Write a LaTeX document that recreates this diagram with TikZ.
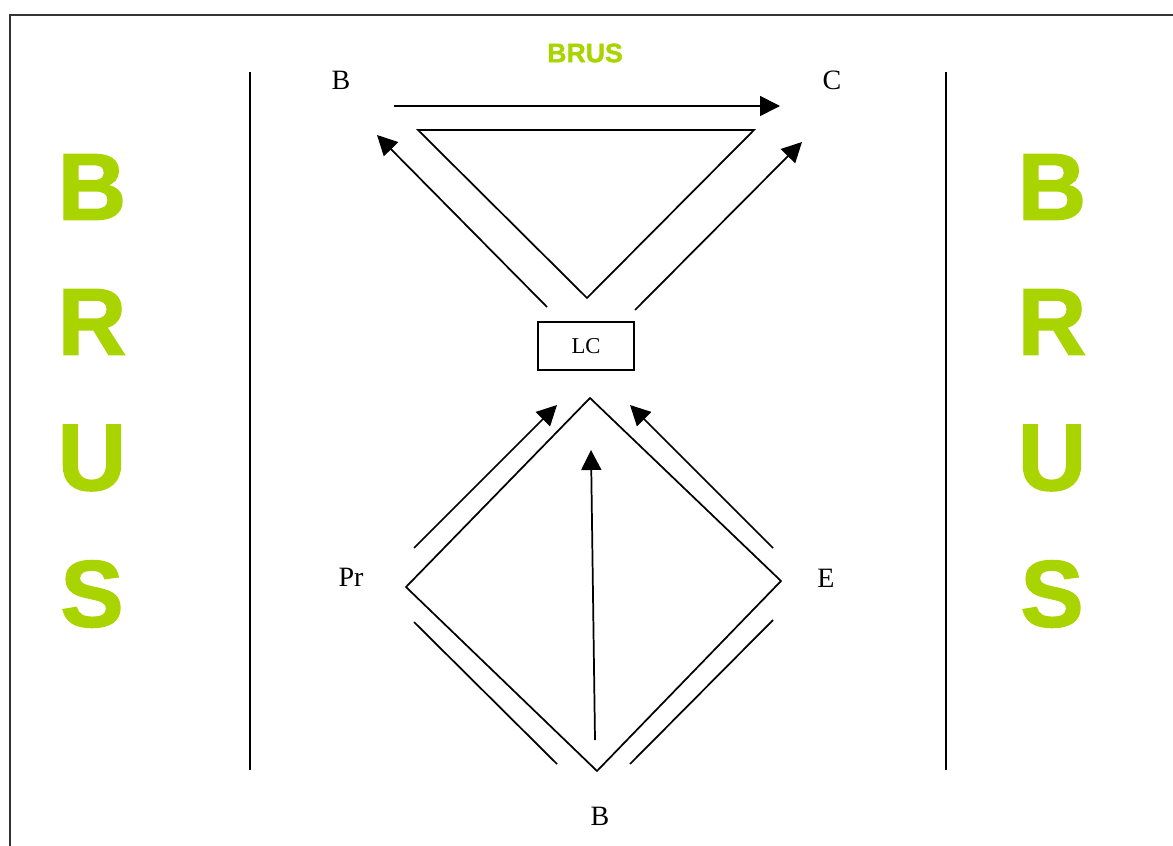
\documentclass[tikz,border=0pt]{standalone}
\usepackage{fontspec}
\setmainfont{Liberation Serif}
\newfontfamily\brusfont[FakeBold=1.6]{Liberation Sans}
\usetikzlibrary{positioning,arrows.meta}
\usepackage{xcolor}
\definecolor{brusgreen}{RGB}{170,212,0}

\begin{document}
\begin{tikzpicture}[
  x=0.75pt, y=-0.75pt,
  lbl/.style={font=\fontsize{21}{24}\selectfont, inner sep=0pt},
  big/.style={font=\brusfont\bfseries\fontsize{71}{71}\selectfont, text=brusgreen, inner sep=0pt},
  hdr/.style={font=\brusfont\bfseries\fontsize{20}{20}\selectfont, text=brusgreen, inner sep=0pt},
  box/.style={draw, line width=1.2pt, minimum width=72pt, minimum height=36pt,
              inner sep=0pt, font=\fontsize{17}{20}\selectfont},
  ln/.style={line width=1.3pt},
  arr/.style={-{Triangle[length=15pt,width=15pt]}, line width=1.3pt}
]
\useasboundingbox (0,0) rectangle (1173,845);
\clip (0,0) rectangle (1173,845);
% ===== frame and side bars =====
\draw[line width=1pt, black!80] (10,15) rectangle (1190,860);
\draw[ln] (250,72) -- (250,770);
\draw[ln] (946,72) -- (946,770);

% ===== side letters =====
\foreach \ch/\yy in {B/187, R/322, U/458, S/594} {
  \node[big] at (92,\yy) {\ch};
  \node[big] at (1052,\yy) {\ch};
}
\node[hdr] (title) at (585,53) {BRUS};

% ===== labels =====
\node[lbl] (bt) at (341,80)  {B};
\node[lbl] (c)  at (832,80)  {C};
\node[box] (lc) at (586,346) {LC};
\node[lbl] (pr) at (351,577) {Pr};
\node[lbl] (e)  at (826,578) {E};
\node[lbl] (bb) at (600,816) {B};

% ===== upper triangle =====
\coordinate (t1) at (418,130);
\coordinate (t2) at (754,130);
\coordinate (t3) at (587,298);
\draw[ln] (t1) -- (t2) -- (t3) -- cycle;
\coordinate (a1) at (394,106);
\coordinate (a2) at (780,106);
\draw[arr] (a1) -- (a2);
\coordinate (a3) at (547,307);
\coordinate (a4) at (377,135);
\draw[arr] (a3) -- (a4);
\coordinate (a5) at (635,310);
\coordinate (a6) at (802,142);
\draw[arr] (a5) -- (a6);

% ===== lower diamond =====
\coordinate (d1) at (590,398);
\coordinate (d2) at (406,587);
\coordinate (d3) at (597,771);
\coordinate (d4) at (781,581);
\draw[ln] (d1) -- (d2) -- (d3) -- (d4) -- cycle;
\coordinate (p1) at (414,548);
\coordinate (p2) at (557,405);
\draw[arr] (p1) -- (p2);
\coordinate (q1) at (773,548);
\coordinate (q2) at (630,405);
\draw[arr] (q1) -- (q2);
\coordinate (m1) at (595,740);
\coordinate (m2) at (591,450);
\draw[arr] (m1) -- (m2);
\coordinate (s1) at (414,622);
\coordinate (s2) at (557,764);
\draw[ln] (s1) -- (s2);
\coordinate (s3) at (773,620);
\coordinate (s4) at (630,764);
\draw[ln] (s3) -- (s4);

\end{tikzpicture}
\end{document}
